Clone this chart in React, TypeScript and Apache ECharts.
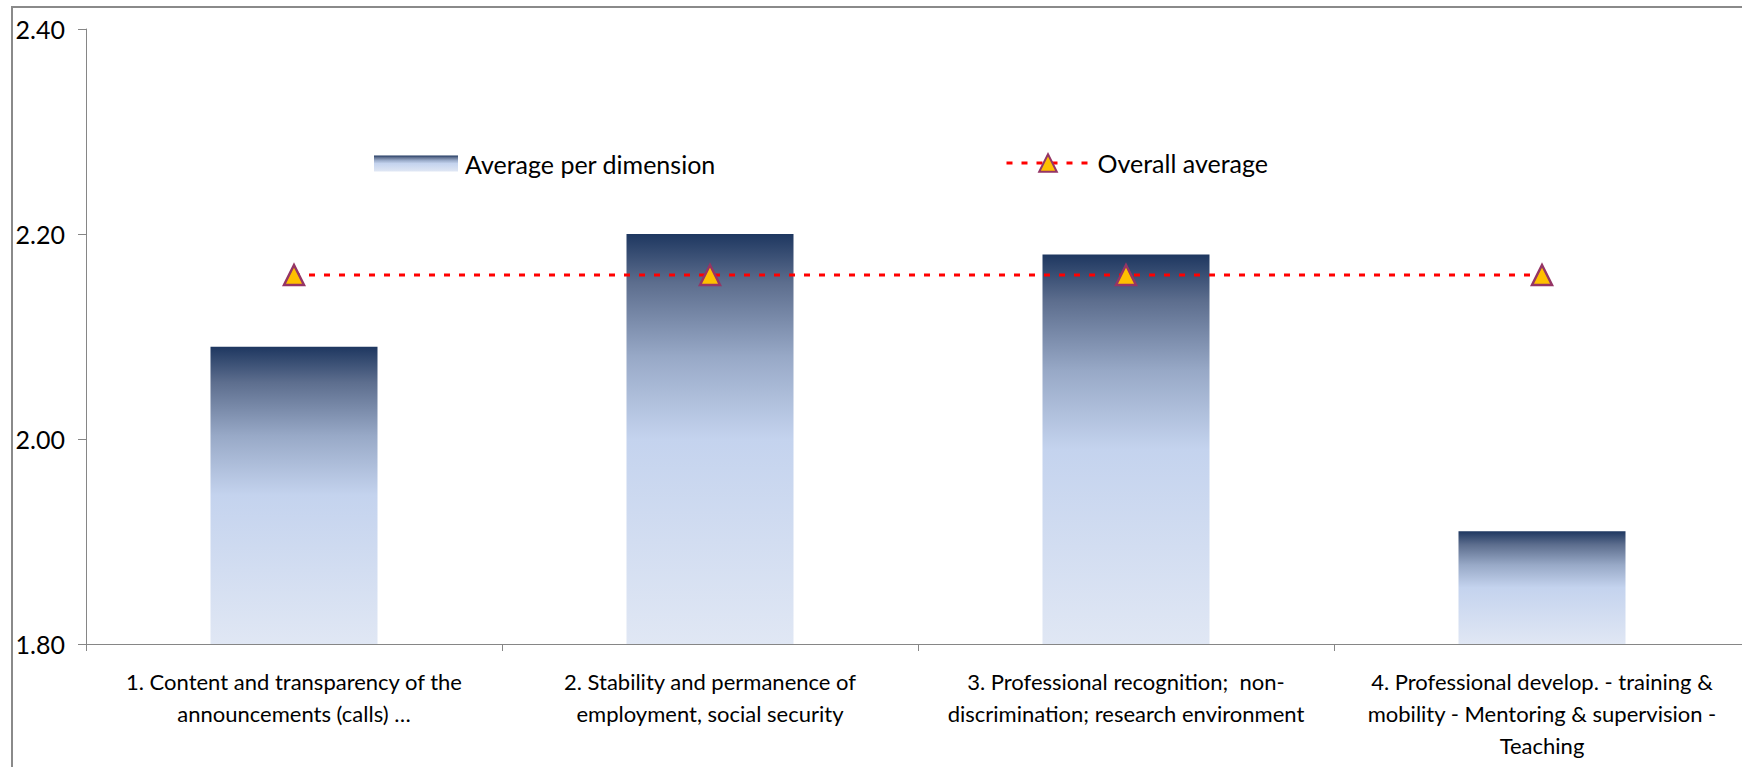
import React, { useEffect, useRef } from "react";
import * as echarts from "echarts";

const categories = [
  "1. Content and transparency of the\nannouncements (calls) …",
  "2. Stability and permanence of\nemployment, social security",
  "3. Professional recognition;  non-\ndiscrimination; research environment",
  "4. Professional develop. - training &\nmobility - Mentoring & supervision -\nTeaching",
];
const averagePerDimension = [2.09, 2.2, 2.18, 1.91];
const overallAverage = [2.16, 2.16, 2.16, 2.16];
const yMin = 1.8;
const yMax = 2.4;
const yInterval = 0.2;

const FONT = "Lato";

export default function App() {
  const ref = useRef<HTMLDivElement>(null);
  useEffect(() => {
    if (!ref.current) return;
    const chart = echarts.init(ref.current, null, { renderer: "svg" });
    const barGradient = new echarts.graphic.LinearGradient(0, 0, 0, 1, [
      { offset: 0, color: "#1e3760" },
      { offset: 0.12, color: "#5d6e8e" },
      { offset: 0.3, color: "#98a9c7" },
      { offset: 0.5, color: "#c4d3ee" },
      { offset: 1, color: "#e0e7f4" },
    ]);
    chart.setOption({
      animation: false,
      backgroundColor: "#ffffff",
      textStyle: { fontFamily: FONT, color: "#000000" },
      graphic: [
        {
          type: "rect",
          left: 9.5,
          top: 4.5,
          shape: { x: 0, y: 0, width: 1800, height: 900 },
          style: { fill: "none", stroke: "#8a8a8a", lineWidth: 2 },
          silent: true,
          z: -10,
        },
      ],
      grid: {
        left: 86,
        top: 29,
        width: 1664,
        height: 615,
        containLabel: false,
        outerBoundsMode: "none",
      },
      legend: [
        {
          data: ["Average per dimension"],
          left: 374,
          top: 151,
          padding: 0,
          itemWidth: 84,
          itemHeight: 16,
          icon: "rect",
          textStyle: { fontFamily: FONT, fontSize: 25, lineHeight: 25, color: "#000", padding: [0, 0, 0, 2] },
        },
        {
          data: ["Overall average"],
          left: 1005,
          top: 150.5,
          padding: 0,
          itemWidth: 83,
          itemHeight: 22,
          lineStyle: { width: 3 },
          textStyle: { fontFamily: FONT, fontSize: 25, lineHeight: 25, color: "#000", padding: [0, 0, 0, 3] },
        },
      ],
      xAxis: {
        type: "category",
        data: categories,
        boundaryGap: true,
        axisLine: { show: true, lineStyle: { color: "#868686", width: 1 } },
        axisTick: { show: true, length: 7, inside: false, alignWithLabel: false, lineStyle: { color: "#868686" } },
        axisLabel: {
          interval: 0,
          margin: 21,
          fontFamily: FONT,
          fontSize: 22,
          lineHeight: 32,
          color: "#000",
          align: "center",
        },
        splitLine: { show: false },
      },
      yAxis: {
        type: "value",
        min: yMin,
        max: yMax,
        interval: yInterval,
        axisLine: { show: true, lineStyle: { color: "#868686", width: 1 } },
        axisTick: { show: true, length: 8, lineStyle: { color: "#868686" } },
        axisLabel: {
          margin: 21,
          fontFamily: FONT,
          fontSize: 25,
          color: "#000",
          formatter: (v: number) => v.toFixed(2),
        },
        splitLine: { show: false },
      },
      series: [
        {
          name: "Average per dimension",
          type: "bar",
          data: averagePerDimension,
          barWidth: 167,
          itemStyle: { color: barGradient },
          z: 2,
        },
        {
          name: "Overall average",
          type: "line",
          data: overallAverage,
          symbol: "triangle",
          symbolSize: 20,
          showAllSymbol: true,
          lineStyle: { color: "#ff0000", width: 3, type: [6, 9] },
          itemStyle: { color: "#ffc000", borderColor: "#953565", borderWidth: 2.5 },
          z: 5,
        },
      ],
    });
    return () => chart.dispose();
  }, []);
  return (
    <div
      ref={ref}
      style={{ position: "fixed", left: 0, top: 0, width: 1742, height: 767, background: "#fff" }}
    />
  );
}
